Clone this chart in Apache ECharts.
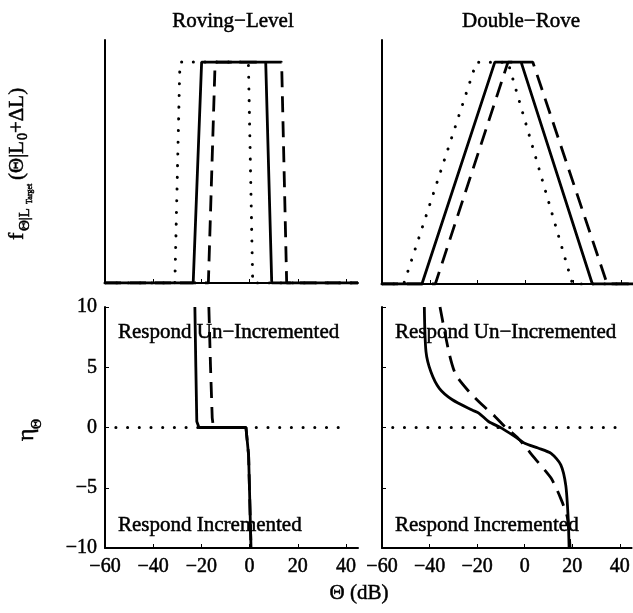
<!DOCTYPE html>
<html>
<head>
<meta charset="utf-8">
<script src="https://cdn.jsdelivr.net/npm/echarts@6/dist/echarts.min.js"></script>
<style>html,body{margin:0;padding:0;background:#fff;}#c{width:633px;height:613px;}</style>
</head>
<body>
<div id="c"></div>
<script>
// ---- data ----
const xTicks = [-60, -40, -20, 0, 20, 40];
const etaTicks = [-10, -5, 0, 5, 10];
const panelTitles = ['Roving\u2212Level', 'Double\u2212Rove'];
const regionLabels = ['Respond Un\u2212Incremented', 'Respond Incremented'];

// top row: f(Θ|L_Target) distributions
const rlSolid  = [[-60,0],[-23.4,0],[-19.9,1],[6.7,1],[9.2,0],[45,0]];
const rlDashed = [[-60,0],[-17.1,0],[-14.3,1],[13.3,1],[15.4,0],[45,0]];
const rlDotted = [[-60,0],[-31,0],[-28.9,1],[-0.5,1],[1.3,0],[45,0]];
const drSolid  = [[-60,0],[-43.3,0],[-12.8,1],[-1.8,1],[28,0],[45,0]];
const drDashed = [[-60,0],[-37.7,0],[-7.3,1],[3.1,1],[34.2,0],[45,0]];
const drDotted = [[-60,0],[-50.9,0],[-20.5,1],[-7.3,1],[19.7,0],[45,0]];

// bottom row: η_Θ
const rlEtaSolid  = [[-22.7,10],[-22.3,5],[-21.9,0.5],[-21,0],[-1.5,0],[-0.4,-2.3],[0.6,-10]];
const rlEtaDashed = [[-16.9,10],[-16.2,5],[-15.5,0.8],[-15,0],[-1.5,0],[-0.4,-2.3],[0.6,-10]];
const drEtaSolid  = [[-42.2,10],[-41.5,6.3],[-39.4,4.6],[-35.9,3.25],[-30.4,2.3],[-22.1,1.45],[-19.3,1.2],[-15.2,0.5],[-9.7,-0.05],[-4.1,-0.75],[0,-1.3],[5.6,-1.7],[11.1,-2.15],[15.2,-3.1],[17.3,-4.8],[18.3,-7.5],[18.7,-10]];
const drEtaDashed = [[-35.6,10],[-31.8,6.2],[-29,4.4],[-23.5,3],[-18,1.9],[-12.4,0.9],[-8.3,0.07],[-2.7,-0.9],[4.2,-2.55],[11.1,-4.2],[15.2,-5.9],[18,-7.5],[19.1,-10]];
const zeroLine = [[-55.5,0],[41,0]];

// ---- styles ----
const FONT = '"Liberation Serif","Times New Roman",serif';
const BLACK = '#000';
const solidStyle  = {color: BLACK, width: 2.8, type: 'solid'};
const dashedStyle = {color: BLACK, width: 2.8, type: [16, 9], cap: 'butt'};
const dottedStyle = {color: BLACK, width: 3, type: [0.1, 11.6], cap: 'round'};
const minusFmt = v => String(v).replace('-', '\u2212');

const grids = [
  {left: 105, top: 40, width: 253, height: 243},
  {left: 382, top: 40, width: 253, height: 244},
  {left: 105, top: 307, width: 253, height: 241},
  {left: 382, top: 307, width: 253, height: 241}
];

const labelStyle = {fontFamily: FONT, fontSize: 20, color: BLACK, textBorderColor: BLACK, textBorderWidth: 0.5};

function xAx(i, showLabels) {
  return {
    type: 'value', gridIndex: i, min: -60, max: 45,
    axisLine: {show: true, onZero: false, lineStyle: {color: BLACK, width: 2}},
    axisTick: {show: true, inside: true, length: 4, customValues: xTicks, lineStyle: {color: BLACK, width: 1}},
    axisLabel: Object.assign({show: showLabels, customValues: xTicks, formatter: minusFmt, margin: 9}, labelStyle),
    splitLine: {show: false}
  };
}
function yTop(i) {
  return {
    type: 'value', gridIndex: i, min: 0, max: 1.1,
    axisLine: {show: true, onZero: false, lineStyle: {color: BLACK, width: 2}},
    axisTick: {show: false}, axisLabel: {show: false}, splitLine: {show: false}
  };
}
function yBot(i, showLabels) {
  return {
    type: 'value', gridIndex: i, min: -10, max: 10, interval: 5,
    axisLine: {show: true, onZero: false, lineStyle: {color: BLACK, width: 2}},
    axisTick: {show: true, inside: true, length: 4, customValues: etaTicks, lineStyle: {color: BLACK, width: 1}},
    axisLabel: Object.assign({show: showLabels, formatter: minusFmt, margin: 8}, labelStyle),
    splitLine: {show: false}
  };
}
function line(data, style, idx, smooth) {
  return {type: 'line', xAxisIndex: idx, yAxisIndex: idx, data: data, showSymbol: false, symbol: 'none',
          smooth: smooth || false, lineStyle: style, silent: true, animation: false, clip: true};
}

function txt(text, x, y, size, align, vAlign) {
  return {type: 'text', x: x, y: y, silent: true,
    style: {text: text, font: size + 'px ' + FONT, fill: BLACK, stroke: BLACK, lineWidth: 0.5,
      textAlign: align || 'left', align: align || 'left',
      textVerticalAlign: vAlign || 'middle', verticalAlign: vAlign || 'middle'}};
}

const option = {
  backgroundColor: '#fff',
  animation: false,
  grid: grids,
  xAxis: [xAx(0, false), xAx(1, false), xAx(2, true), xAx(3, true)],
  yAxis: [yTop(0), yTop(1), yBot(2, true), yBot(3, false)],
  series: [
    line(rlDotted, dottedStyle, 0), line(rlDashed, dashedStyle, 0), line(rlSolid, solidStyle, 0),
    line(drDotted, dottedStyle, 1), line(drDashed, dashedStyle, 1), line(drSolid, solidStyle, 1),
    line(zeroLine, dottedStyle, 2), line(rlEtaDashed, dashedStyle, 2), line(rlEtaSolid, solidStyle, 2),
    line(zeroLine, dottedStyle, 3), line(drEtaDashed, dashedStyle, 3, 0.25), line(drEtaSolid, solidStyle, 3, 0.25)
  ],
  graphic: [
    txt(panelTitles[0], 233, 21, 21, 'center'),
    txt(panelTitles[1], 521, 21, 21, 'center'),
    txt(regionLabels[0], 118, 332, 21),
    txt(regionLabels[0], 395, 332, 21),
    txt(regionLabels[1], 118, 525, 21),
    txt(regionLabels[1], 395, 525, 21),
    txt('\u0398 (dB)', 359, 593, 21, 'center'),
    {type: 'group', x: 0, y: 240, rotation: Math.PI / 2, silent: true, children: [
      txt('f', 0, 17, 22),
      txt('\u0398|L', 9, 25, 15),
      txt('Target', 36, 30, 8),
      txt('(\u0398|L', 60, 17, 21),
      txt('0', 100, 23, 14),
      txt('+\u0394L)', 107, 17, 21)
    ]},
    {type: 'group', x: 0, y: 441, rotation: Math.PI / 2, silent: true, children: [
      txt('\u03B7', 0, 27, 24),
      txt('\u0398', 12, 37, 14)
    ]}
  ]
};

const chart = echarts.init(document.getElementById('c'), null, {renderer: 'canvas'});
chart.setOption(option);
</script>
</body>
</html>
